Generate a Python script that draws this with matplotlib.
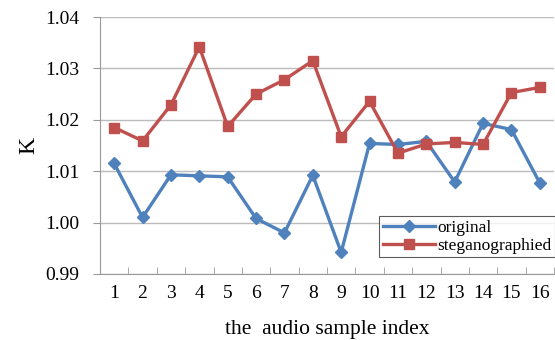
import matplotlib
matplotlib.use("Agg")
import matplotlib.pyplot as plt
import numpy as np

idx = list(range(1, 17))
original = [1.0115, 1.0010, 1.0093, 1.0091, 1.0089, 1.0008, 0.9980, 1.0092,
            0.9942, 1.0154, 1.0152, 1.0158, 1.0079, 1.0193, 1.0181, 1.0077]
stego = [1.0185, 1.0159, 1.0229, 1.0342, 1.0187, 1.0250, 1.0278, 1.0315,
         1.0167, 1.0236, 1.0135, 1.0153, 1.0156, 1.0152, 1.0253, 1.0263]
yticks = [0.99, 1.00, 1.01, 1.02, 1.03, 1.04]

plt.rcParams['font.family'] = ['Liberation Serif', 'DejaVu Serif']
fig = plt.figure(figsize=(5.55, 3.4), dpi=100)
ax = fig.add_axes([100/555, 1-274/340, 454/555, 257/340])

ax.plot(idx, original, color='#4F81BD', lw=2.4, marker='D', ms=6, label='original', zorder=3)
ax.plot(idx, stego, color='#C0504D', lw=2.4, marker='s', ms=7.5, label='steganographied', zorder=3)

ax.set_xlim(0.5, 16.5)
ax.set_ylim(0.99, 1.04)
ax.set_yticks(yticks)
ax.set_yticklabels([f"{v:.2f}" for v in yticks], fontsize=14)
ax.set_xticks(idx)
ax.set_xticklabels([str(i) for i in idx], fontsize=14)
ax.tick_params(axis='x', length=0, pad=8)
ax.set_xticks(np.arange(0.5, 17, 1), minor=True)
ax.tick_params(axis='x', which='minor', length=5, color='#999999', direction='in')
ax.tick_params(axis='y', length=5, color='#999999', direction='out', pad=10)
ax.grid(axis='y', color='#BBBBBB', lw=1)
ax.set_axisbelow(True)
for s in ['top', 'right']:
    ax.spines[s].set_visible(False)
for s in ['left', 'bottom']:
    ax.spines[s].set_color('#999999')

ax.set_ylabel('K', fontsize=17, labelpad=4)
ax.set_xlabel('the  audio sample index', fontsize=15.5, labelpad=13)

leg = ax.legend(loc='lower right', bbox_to_anchor=(1.003, 0.065), fontsize=12.5,
                frameon=True, fancybox=False, edgecolor='#333333',
                handlelength=3.0, handletextpad=0.15, borderpad=0.2,
                borderaxespad=0, labelspacing=0.1)
leg.get_frame().set_linewidth(0.8)

fig.savefig('out.png', dpi=100)
